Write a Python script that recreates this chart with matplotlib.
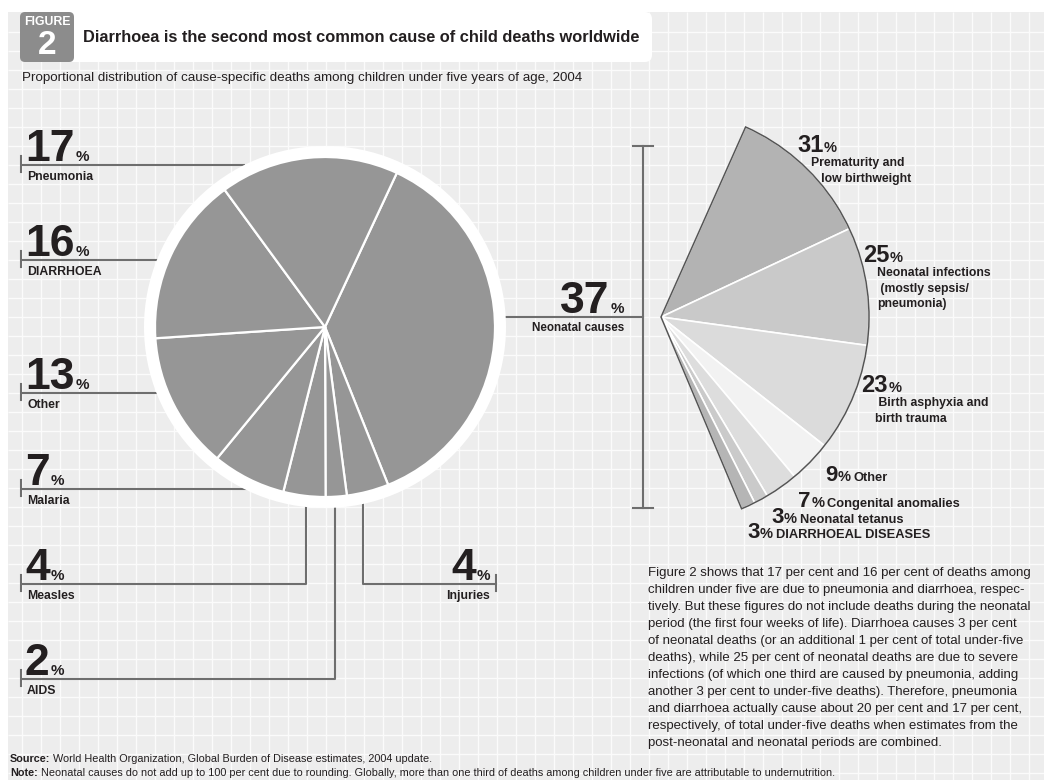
import matplotlib
matplotlib.use('Agg')
import matplotlib.pyplot as plt
from matplotlib import font_manager
from matplotlib.patches import Circle, Wedge, FancyBboxPatch, Rectangle

# Under-five deaths by cause, 2004 (per cent), clockwise from the top
causes = ['Neonatal causes', 'Injuries', 'AIDS', 'Measles', 'Malaria',
          'Other', 'DIARRHOEA', 'Pneumonia']
shares = [37, 4, 2, 4, 7, 13, 16, 17]

# Breakdown of the neonatal slice (per cent of neonatal deaths)
neonatal_causes = ['Prematurity and\n   low birthweight',
                   'Neonatal infections\n (mostly sepsis/\npneumonia)',
                   ' Birth asphyxia and\nbirth trauma',
                   'Other', 'Congenital anomalies', 'Neonatal tetanus',
                   'DIARRHOEAL DISEASES']
neonatal_shares = [31, 25, 23, 9, 7, 3, 3]
neonatal_colors = ['#b3b3b3', '#c9c9c9', '#dbdbdb', '#f2f2f2', '#dddddd',
                   '#cacaca', '#b5b5b5']

title = 'Diarrhoea is the second most common cause of child deaths worldwide'
subtitle = ('Proportional distribution of cause-specific deaths among children '
            'under five years of age, 2004')
body = [
    'Figure 2 shows that 17 per cent and 16 per cent of deaths among',
    'children under five are due to pneumonia and diarrhoea, respec-',
    'tively. But these figures do not include deaths during the neonatal',
    'period (the first four weeks of life). Diarrhoea causes 3 per cent',
    'of neonatal deaths (or an additional 1 per cent of total under-five',
    'deaths), while 25 per cent of neonatal deaths are due to severe',
    'infections (of which one third are caused by pneumonia, adding',
    'another 3 per cent to under-five deaths). Therefore, pneumonia',
    'and diarrhoea actually cause about 20 per cent and 17 per cent,',
    'respectively, of total under-five deaths when estimates from the',
    'post-neonatal and neonatal periods are combined.',
]
source = 'World Health Organization, Global Burden of Disease estimates, 2004 update.'
note = ('Neonatal causes do not add up to 100 per cent due to rounding. Globally, '
        'more than one third of deaths among children under five are attributable '
        'to undernutrition.')

# fonts
names = {f.name for f in font_manager.fontManager.ttflist}
if 'Liberation Sans Narrow' in names:
    narrow, k = 'Liberation Sans Narrow', 1.0
else:
    narrow, k = 'Liberation Sans', 0.84
num_font = 'Liberation Sans'
ink = '#231f20'
line_c = '#6e6e6e'

W, H = 1044, 780
fig = plt.figure(figsize=(W / 100, H / 100), dpi=100)
ax = fig.add_axes([0, 0, 1, 1])

# background panel with grid
ax.add_patch(Rectangle((8, 12), W, H, facecolor='#ededed', edgecolor='none', zorder=0))
gx = [21.5 + 19 * i for i in range(55)]
gy = [31.7 + 19 * i for i in range(40)]
ax.vlines(gx, 12, H, colors='#fbfbfb', lw=1.0, zorder=0.5)
ax.hlines(gy, 8, W, colors='#fbfbfb', lw=1.0, zorder=0.5)

# title box
ax.add_patch(FancyBboxPatch((20, 12), 632, 50, boxstyle='round,pad=0,rounding_size=7',
                            facecolor='white', edgecolor='none', zorder=1))
ax.add_patch(FancyBboxPatch((20, 12), 54, 50, boxstyle='round,pad=0,rounding_size=5',
                            facecolor='#8c8c8c', edgecolor='none', zorder=1.1))
ax.text(47, 22, 'FIGURE', color='white', fontsize=10.5 * k, fontweight='bold',
        family=narrow, ha='center', va='center', zorder=2)
ax.text(47, 45, '2', color='white', fontsize=24, fontweight='bold',
        family=num_font, ha='center', va='center', zorder=2)
ax.text(83, 37, title, color=ink, fontsize=14 * k, fontweight='bold',
        family=narrow, ha='left', va='center', zorder=2)
ax.text(22, 78, subtitle, color=ink, fontsize=11.5 * k, family=narrow,
        ha='left', va='center', zorder=2)


def pct_label(x, y, value, size, pct_size=11, ha='left'):
    kw = dict(color=ink, fontweight='bold', family=num_font, va='baseline', zorder=6)
    if ha == 'left':
        t = ax.text(x, y, str(value), fontsize=size, ha='left', **kw)
        return ax.annotate('%', xy=(1, y), xycoords=(t, 'data'), xytext=(0.5, 0),
                           textcoords='offset points', fontsize=pct_size, ha='left', **kw)
    p = ax.text(x, y, '%', fontsize=pct_size, ha='right', **kw)
    ax.annotate(str(value), xy=(0, y), xycoords=(p, 'data'), xytext=(-0.5, 0),
                textcoords='offset points', fontsize=size, ha='right', **kw)
    return p


# main pie
cx, cy, r = 325, 327, 170
ax.add_patch(Circle((cx, cy), r + 11, facecolor='white', edgecolor='none', zorder=3))
wedges, _ = ax.pie(shares, center=(cx, cy), radius=r, startangle=-65, counterclock=True,
                   colors=['#969696'] * len(shares),
                   wedgeprops=dict(edgecolor='white', linewidth=1.6))
for w in wedges:
    w.set_zorder(4)

# leader lines for the pie: (line y, path of the leader)
left_labels = {
    'Pneumonia': (165, [(21, 165), (245, 165)]),
    'DIARRHOEA': (260, [(21, 260), (160, 260)]),
    'Other': (393, [(21, 393), (160, 393)]),
    'Malaria': (489, [(21, 489), (251, 489)]),
    'Measles': (584, [(21, 584), (306, 584), (306, 500)]),
    'AIDS': (679, [(21, 679), (335, 679), (335, 500)]),
}
for name, (ly, path) in left_labels.items():
    xs, ys = zip(*path)
    ax.plot(xs, ys, color=line_c, lw=1.5, zorder=2, solid_capstyle='butt')
    ax.plot([21, 21], [ly - 9, ly + 7], color=line_c, lw=1.5, zorder=2)
    pct_label(25, ly - 4, shares[causes.index(name)], 32)
    ax.text(27, ly + 6, name, color=ink, fontsize=10.5 * k, fontweight='bold',
            family=narrow, ha='left', va='top', zorder=6)

# injuries on the right of the pie
ax.plot([363, 363, 496], [500, 584, 584], color=line_c, lw=1.5, zorder=2)
ax.plot([496, 496], [575, 591], color=line_c, lw=1.5, zorder=2)
pct_label(490, 580, shares[causes.index('Injuries')], 32, ha='right')
ax.text(490, 590, 'Injuries', color=ink, fontsize=10.5 * k, fontweight='bold',
        family=narrow, ha='right', va='top', zorder=6)

# neonatal bracket
ax.plot([505, 643], [317, 317], color=line_c, lw=1.5, zorder=2)
ax.plot([643, 643], [146, 508], color=line_c, lw=1.5, zorder=2)
ax.plot([633, 653], [146, 146], color=line_c, lw=1.5, zorder=2)
ax.plot([633, 653], [508, 508], color=line_c, lw=1.5, zorder=2)
pct_label(624, 313, shares[0], 32, ha='right')
ax.text(624, 322, 'Neonatal causes', color=ink, fontsize=10 * k, fontweight='bold',
        family=narrow, ha='right', va='top', zorder=6)

# neonatal fan: the 37% slice drawn larger and split
fx, fy, fr = 661, 317, 208
span = shares[0] / 100
fracs = [v / sum(neonatal_shares) * span for v in neonatal_shares]
fan, _ = ax.pie(fracs, center=(fx, fy), radius=fr, startangle=-66, counterclock=True,
                normalize=False, colors=neonatal_colors,
                wedgeprops=dict(edgecolor='white', linewidth=1.2))
for w in fan:
    w.set_zorder(4)
ax.add_patch(Wedge((fx, fy), fr, -66, -66 + span * 360, facecolor='none',
                   edgecolor='#555555', lw=1.1, zorder=5))

# fan labels: number position
fan_pos = [(797, 152), (863, 262), (861, 392), (825, 481), (798, 507), (771, 523), (747, 538)]
for i, (name, v) in enumerate(zip(neonatal_causes, neonatal_shares)):
    x, y = fan_pos[i]
    if i < 3:
        pct_label(x, y, v, 17, pct_size=10.5)
        ax.text(x + 14, y + 5, name, color=ink, fontsize=10.5 * k, fontweight='bold',
                family=narrow, ha='left', va='top', linespacing=1.4, zorder=6)
    else:
        p = pct_label(x, y, v, 16, pct_size=10.5)
        ax.annotate(name, xy=(1, y), xycoords=(p, 'data'), xytext=(2, 0),
                    textcoords='offset points', color=ink, fontsize=11 * k,
                    fontweight='bold', family=narrow, ha='left', va='baseline', zorder=6)

# body text
for i, line in enumerate(body):
    ax.text(648, 573 + 17 * i, line, color=ink, fontsize=11.4 * k, family=narrow,
            ha='left', va='center', zorder=6)

# footer
for yy, head, rest in [(759, 'Source:', source), (773, 'Note:', note)]:
    h = ax.text(10, yy, head, color=ink, fontsize=9.3 * k, fontweight='bold',
                family=narrow, ha='left', va='center', zorder=6)
    ax.annotate(' ' + rest, xy=(1, 0.5), xycoords=h, color=ink, fontsize=9.3 * k,
                family=narrow, ha='left', va='center', zorder=6)

ax.set_xlim(0, W)
ax.set_ylim(H, 0)
ax.set_aspect('equal')
ax.axis('off')
fig.savefig('out.png', dpi=100, facecolor='white')
